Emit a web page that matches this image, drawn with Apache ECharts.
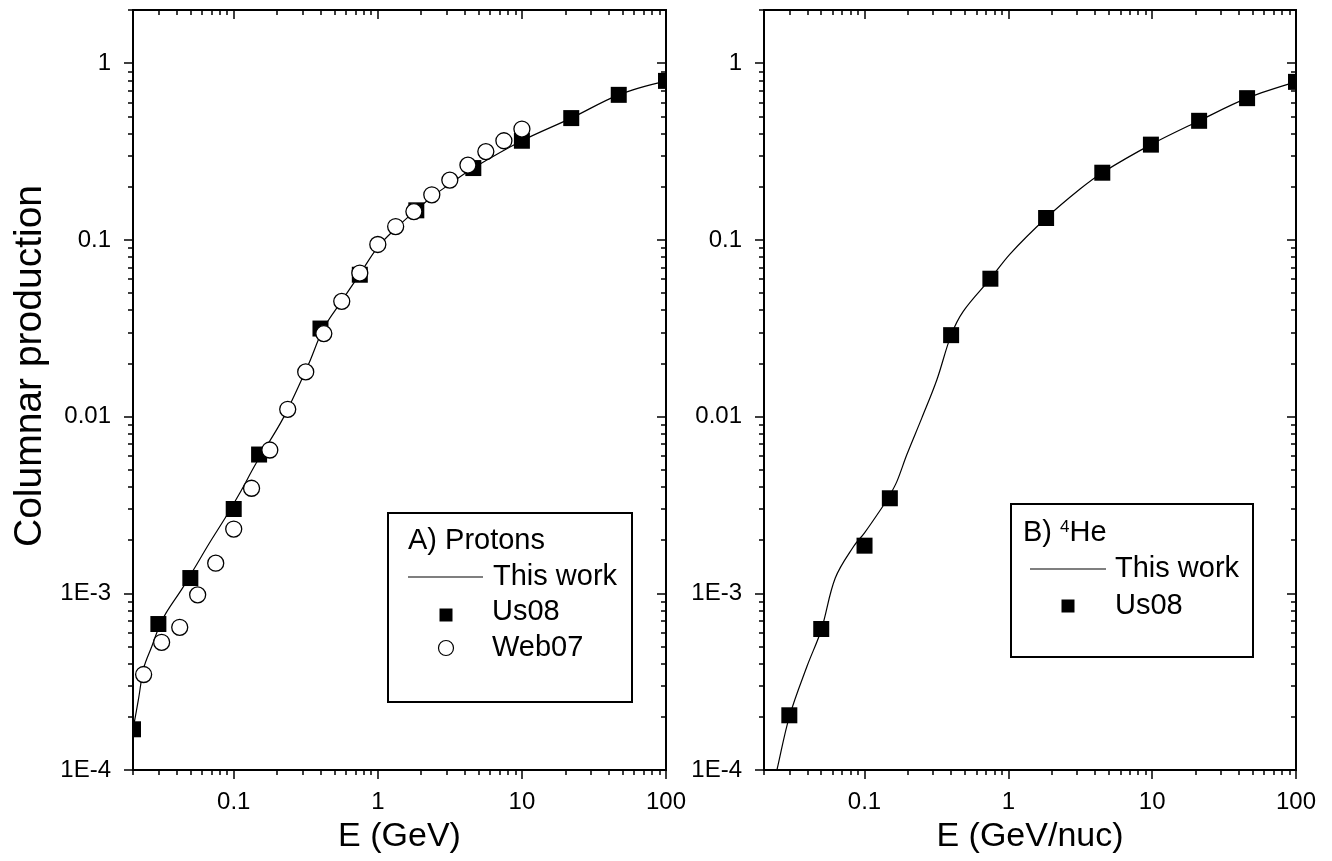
<!DOCTYPE html>
<html>
<head>
<meta charset="utf-8">
<title>Columnar production</title>
<script src="https://cdn.jsdelivr.net/npm/echarts@6/dist/echarts.min.js"></script>
<style>
  html, body { margin: 0; padding: 0; background: #fff; }
  #chart { width: 1332px; height: 861px; }
</style>
</head>
<body>
<div id="chart"></div>
<script>
// ---- Panel A: protons ----
const protonTheoryE = [0.02, 0.0218, 0.0238, 0.027, 0.03, 0.0338, 0.0441, 0.0535, 0.0677, 0.0885, 0.11, 0.143, 0.22, 0.328, 0.42, 0.56, 0.75, 1.0, 1.33, 1.8, 2.37, 3.16, 4.6, 10, 22, 47, 100];
const protonTheoryY = [1.7e-4, 2.5e-4, 3.8e-4, 5.0e-4, 6.3e-4, 7.7e-4, 1.07e-3, 1.39e-3, 1.92e-3, 2.72e-3, 3.68e-3, 5.44e-3, 9.77e-3, 0.0195, 0.0315, 0.045, 0.064, 0.091, 0.116, 0.145, 0.175, 0.207, 0.255, 0.364, 0.489, 0.662, 0.794];

const protonUs08E = [0.02, 0.03, 0.05, 0.1, 0.15, 0.4, 0.75, 1.85, 4.6, 10, 22, 47, 100];
const protonUs08Y = [1.7e-4, 6.7e-4, 1.22e-3, 3.0e-3, 6.1e-3, 0.0315, 0.0635, 0.147, 0.255, 0.364, 0.489, 0.662, 0.794];

const protonWeb07E = [0.0237, 0.0316, 0.0422, 0.0562, 0.075, 0.1, 0.133, 0.178, 0.237, 0.316, 0.422, 0.562, 0.75, 1.0, 1.33, 1.78, 2.37, 3.16, 4.22, 5.62, 7.5, 10];
const protonWeb07Y = [3.47e-4, 5.28e-4, 6.42e-4, 9.8e-4, 1.48e-3, 2.31e-3, 3.93e-3, 6.47e-3, 0.0110, 0.0179, 0.0295, 0.0449, 0.0649, 0.0942, 0.119, 0.1446, 0.180, 0.218, 0.265, 0.316, 0.364, 0.424];

// ---- Panel B: 4He ----
const heTheoryE = [0.022, 0.0246, 0.03, 0.04, 0.05, 0.0626, 0.0839, 0.1, 0.132, 0.15, 0.168, 0.197, 0.25, 0.318, 0.4, 0.487, 0.75, 1.03, 1.83, 3.15, 4.5, 9.8, 21.2, 45.7, 100];
const heTheoryY = [6.8e-5, 1.0e-4, 2.0e-4, 3.9e-4, 6.2e-4, 1.22e-3, 1.84e-3, 2.2e-3, 3.05e-3, 3.6e-3, 4.3e-3, 6.1e-3, 9.8e-3, 0.0161, 0.0289, 0.0395, 0.0603, 0.0834, 0.133, 0.194, 0.240, 0.346, 0.472, 0.634, 0.784];

const heUs08E = [0.03, 0.05, 0.1, 0.15, 0.4, 0.75, 1.83, 4.5, 9.8, 21.2, 45.7, 100];
const heUs08Y = [2.04e-4, 6.28e-4, 1.86e-3, 3.45e-3, 0.0289, 0.0603, 0.133, 0.240, 0.346, 0.472, 0.634, 0.784];

// ---- Axes and labels ----
const X_MIN = 0.02, X_MAX = 100;
const Y_MIN = 1e-4, Y_MAX = 2;
const xTickValues = [0.1, 1, 10, 100];
const xTickLabels = ['0.1', '1', '10', '100'];
const yTickValues = [1e-4, 1e-3, 0.01, 0.1, 1];
const yTickLabels = ['1E-4', '1E-3', '0.01', '0.1', '1'];
const xTitles = ['E (GeV)', 'E (GeV/nuc)'];
const yTitle = 'Columnar production';
const seriesNames = ['This work', 'Us08', 'Web07'];
const panelTitles = ['A) Protons', 'B) '];

const FONT = '"Liberation Sans", Arial, sans-serif';
const BLACK = '#000';

function zip(xs, ys) { return xs.map((x, i) => [x, ys[i]]); }

function minorTicks(lo, hi) {
  const out = [];
  for (let e = Math.floor(Math.log10(lo)); e <= Math.ceil(Math.log10(hi)); e++) {
    for (let k = 2; k <= 9; k++) {
      const v = k * Math.pow(10, e);
      if (v >= lo * 0.999 && v <= hi * 1.001) out.push(v);
    }
  }
  return out;
}

function labelFor(values, labels) {
  return function (v) {
    for (let i = 0; i < values.length; i++) {
      if (Math.abs(Math.log10(values[i]) - Math.log10(v)) < 1e-6) return labels[i];
    }
    return '';
  };
}

const xMinor = minorTicks(X_MIN, X_MAX);
const yMinor = minorTicks(Y_MIN, Y_MAX);
const tickLine = { color: BLACK, width: 1.5 };

function xAxes(gi) {
  const base = {
    type: 'log', logBase: 10, gridIndex: gi, min: X_MIN, max: X_MAX, z: 5,
    splitLine: { show: false },
    axisLine: { show: true, onZero: false, lineStyle: { color: BLACK, width: 2 } }
  };
  return [
    Object.assign({}, base, {
      position: 'bottom',
      axisTick: { show: true, customValues: xTickValues, length: 9, inside: false, lineStyle: tickLine },
      axisLabel: { show: true, customValues: xTickValues, formatter: labelFor(xTickValues, xTickLabels),
        color: BLACK, fontSize: 24, fontFamily: FONT, margin: 20 },
      name: xTitles[gi], nameLocation: 'middle', nameGap: 50,
      nameTextStyle: { color: BLACK, fontSize: 34, fontFamily: FONT }
    }),
    Object.assign({}, base, {
      position: 'bottom',
      axisTick: { show: true, customValues: xMinor, length: 5, inside: false, lineStyle: tickLine },
      axisLabel: { show: false }
    }),
    Object.assign({}, base, {
      position: 'top',
      axisTick: { show: true, customValues: xTickValues, length: 9, inside: true, lineStyle: tickLine },
      axisLabel: { show: false }
    }),
    Object.assign({}, base, {
      position: 'top',
      axisTick: { show: true, customValues: xMinor, length: 5, inside: true, lineStyle: tickLine },
      axisLabel: { show: false }
    })
  ];
}

function yAxes(gi) {
  const base = {
    type: 'log', logBase: 10, gridIndex: gi, min: Y_MIN, max: Y_MAX, z: 5,
    splitLine: { show: false },
    axisLine: { show: true, onZero: false, lineStyle: { color: BLACK, width: 2 } }
  };
  return [
    Object.assign({}, base, {
      position: 'left',
      axisTick: { show: true, customValues: yTickValues, length: 9, inside: false, lineStyle: tickLine },
      axisLabel: { show: true, customValues: yTickValues, formatter: labelFor(yTickValues, yTickLabels),
        color: BLACK, fontSize: 24, fontFamily: FONT, margin: 22 }
    }),
    Object.assign({}, base, {
      position: 'left',
      axisTick: { show: true, customValues: yMinor, length: 5, inside: false, lineStyle: tickLine },
      axisLabel: { show: false }
    }),
    Object.assign({}, base, {
      position: 'right',
      axisTick: { show: true, customValues: yTickValues, length: 9, inside: true, lineStyle: tickLine },
      axisLabel: { show: false }
    }),
    Object.assign({}, base, {
      position: 'right',
      axisTick: { show: true, customValues: yMinor, length: 5, inside: true, lineStyle: tickLine },
      axisLabel: { show: false }
    })
  ];
}

function theoryLine(gi, xs, ys) {
  return {
    type: 'line', name: seriesNames[0], xAxisIndex: gi * 4, yAxisIndex: gi * 4,
    data: zip(xs, ys), symbol: 'none', smooth: 0.35, clip: true,
    lineStyle: { color: BLACK, width: 1.2 }, z: 2, silent: true
  };
}
function squares(gi, xs, ys) {
  return {
    type: 'scatter', name: seriesNames[1], xAxisIndex: gi * 4, yAxisIndex: gi * 4,
    data: zip(xs, ys), symbol: 'rect', symbolSize: 16, clip: false,
    itemStyle: { color: BLACK, opacity: 1 }, z: 2, silent: true
  };
}
function circles(gi, xs, ys) {
  return {
    type: 'scatter', name: seriesNames[2], xAxisIndex: gi * 4, yAxisIndex: gi * 4,
    data: zip(xs, ys), symbol: 'circle', symbolSize: 16, clip: false,
    itemStyle: { color: '#fff', borderColor: BLACK, borderWidth: 1.3, opacity: 1 }, z: 2, silent: true
  };
}

// Legend boxes and the vertical title drawn as plain graphics
function legendText(x, y, text) {
  return { type: 'text', z: 4, style: { x: x, y: y, text: text, fill: BLACK, font: '29px ' + FONT, verticalAlign: 'middle' } };
}
const graphics = [
  // masks trimming symbols that overhang the plot frame
  { type: 'rect', z: 3, silent: true, shape: { x: 118, y: 10, width: 14, height: 760 }, style: { fill: '#fff' } },
  { type: 'rect', z: 3, silent: true, shape: { x: 667, y: 10, width: 14, height: 760 }, style: { fill: '#fff' } },
  { type: 'rect', z: 3, silent: true, shape: { x: 1297, y: 10, width: 14, height: 760 }, style: { fill: '#fff' } },

  // y-axis title
  { type: 'text', z: 4, x: 30, y: 366, rotation: Math.PI / 2,
    style: { text: yTitle, fill: BLACK, font: '39px ' + FONT, align: 'center', verticalAlign: 'middle' } },

  // legend A
  { type: 'rect', z: 4, shape: { x: 388, y: 513, width: 244, height: 189 }, style: { fill: '#fff', stroke: BLACK, lineWidth: 2 } },
  legendText(408, 541, panelTitles[0]),
  { type: 'line', z: 4, shape: { x1: 408, y1: 577, x2: 483, y2: 577 }, style: { stroke: BLACK, lineWidth: 1.1 } },
  legendText(493, 577, seriesNames[0]),
  { type: 'rect', z: 4, shape: { x: 439.5, y: 608.5, width: 13, height: 13 }, style: { fill: BLACK } },
  legendText(492, 612, seriesNames[1]),
  { type: 'circle', z: 4, shape: { cx: 446, cy: 648, r: 7.5 }, style: { fill: '#fff', stroke: BLACK, lineWidth: 1.2 } },
  legendText(492, 648, seriesNames[2]),

  // legend B
  { type: 'rect', z: 4, shape: { x: 1011, y: 504, width: 242, height: 153 }, style: { fill: '#fff', stroke: BLACK, lineWidth: 2 } },
  { type: 'text', z: 4, style: {
      x: 1023, y: 533, verticalAlign: 'middle', fill: BLACK,
      text: '{a|' + panelTitles[1] + '}{s|4}{a|He}',
      rich: {
        a: { fontSize: 29, fontFamily: FONT, fill: BLACK, verticalAlign: 'bottom' },
        s: { fontSize: 17, fontFamily: FONT, fill: BLACK, verticalAlign: 'top' }
      }
  } },
  { type: 'line', z: 4, shape: { x1: 1030, y1: 569, x2: 1106, y2: 569 }, style: { stroke: BLACK, lineWidth: 1.1 } },
  { type: 'text', z: 4, style: { x: 1115, y: 569, text: seriesNames[0], fill: BLACK, font: '29px ' + FONT, verticalAlign: 'middle' } },
  { type: 'rect', z: 4, shape: { x: 1061.5, y: 599.5, width: 13, height: 13 }, style: { fill: BLACK } },
  { type: 'text', z: 4, style: { x: 1115, y: 606, text: seriesNames[1], fill: BLACK, font: '29px ' + FONT, verticalAlign: 'middle' } }
];

const chart = echarts.init(document.getElementById('chart'), null, { renderer: 'canvas' });
chart.setOption({
  animation: false,
  backgroundColor: '#fff',
  textStyle: { fontFamily: FONT },
  grid: [
    { left: 133, top: 10, width: 533, height: 760, containLabel: false, outerBoundsMode: 'none' },
    { left: 764, top: 10, width: 532, height: 760, containLabel: false, outerBoundsMode: 'none' }
  ],
  xAxis: xAxes(0).concat(xAxes(1)),
  yAxis: yAxes(0).concat(yAxes(1)),
  series: [
    theoryLine(0, protonTheoryE, protonTheoryY),
    squares(0, protonUs08E, protonUs08Y),
    circles(0, protonWeb07E, protonWeb07Y),
    theoryLine(1, heTheoryE, heTheoryY),
    squares(1, heUs08E, heUs08Y)
  ],
  graphic: graphics
});
</script>
</body>
</html>
